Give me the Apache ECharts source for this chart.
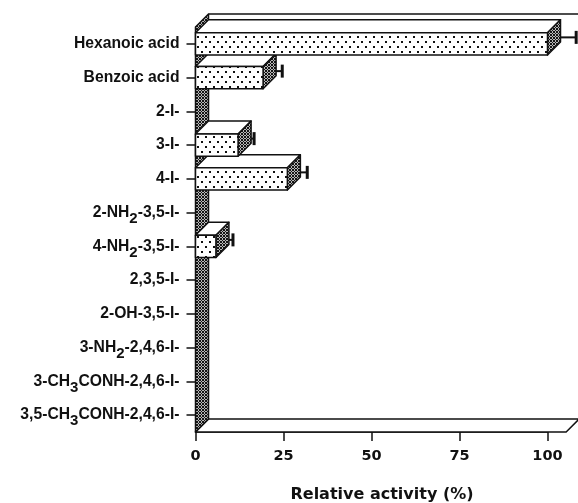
<!DOCTYPE html>
<html><head><meta charset="utf-8">
<script src="https://cdn.jsdelivr.net/npm/echarts@6/dist/echarts.min.js"></script>
<style>html,body{margin:0;padding:0;background:#fff}#c{width:578px;height:503px}</style>
</head><body><div id="c"></div>
<script>
// ---- data ----
const categories = ['Hexanoic acid', 'Benzoic acid', '2-I-', '3-I-', '4-I-', '2-NH₂-3,5-I-', '4-NH₂-3,5-I-', '2,3,5-I-', '2-OH-3,5-I-', '3-NH₂-2,4,6-I-', '3-CH₃CONH-2,4,6-I-', '3,5-CH₃CONH-2,4,6-I-'];
const activity = [100, 19.2, 0, 12.1, 26.1, 0, 5.8, 0, 0, 0, 0, 0];
const errors = [6.3, 3.6, 0, 2.7, 3.8, 0, 3.0, 0, 0, 0, 0, 0];
const xTickLabels = ['0', '25', '50', '75', '100'];
const xAxisName = 'Relative activity (%)';
const floorMax = [105.3];

// ---- styles ----
const INK = '#111';
const DEPTH = 13;
function makeDots() {
  const c = document.createElement('canvas'); c.width = 8; c.height = 10;
  const g = c.getContext('2d');
  g.fillStyle = '#fff'; g.fillRect(0, 0, 8, 10);
  g.fillStyle = '#111'; g.fillRect(1, 1, 2, 2); g.fillRect(5, 6, 2, 2);
  return c;
}
function makeHatch() {
  const c = document.createElement('canvas'); c.width = 3; c.height = 3;
  const g = c.getContext('2d');
  g.fillStyle = '#b8b8b8'; g.fillRect(0, 0, 3, 3);
  g.fillStyle = '#151515';
  for (let x = 0; x < 3; x++) for (let y = 0; y < 3; y++) {
    if ((x - y + 3) % 3 === 0 || (x + y) % 3 === 0) g.fillRect(x, y, 1, 1);
  }
  return c;
}
const dotsFill = { image: makeDots(), repeat: 'repeat' };
const hatchFill = { image: makeHatch(), repeat: 'repeat' };

const barData = categories.map((c, i) => [activity[i], i, errors[i]]);

function renderBar(params, api) {
  const v = api.value(0), ci = api.value(1), e = api.value(2);
  if (!(v > 0)) return null;
  const p0 = api.coord([0, ci]);
  const p1 = api.coord([v, ci]);
  const band = api.size([0, 1])[1];
  const h = band * 0.66, D = DEPTH;
  const x0 = p0[0], x1 = p1[0], yc = p0[1], yt = yc - h / 2, yb = yc + h / 2;
  const base = (categories.length - ci) * 10;
  const st = { stroke: INK, lineWidth: 1.5, lineJoin: 'round' };
  const children = [
    { type: 'polygon', z2: base, shape: { points: [[x0, yt], [x0 + D, yt - D], [x1 + D, yt - D], [x1, yt]] }, style: Object.assign({ fill: '#fff' }, st) },
    { type: 'polygon', z2: base + 1, shape: { points: [[x1, yt], [x1 + D, yt - D], [x1 + D, yb - D], [x1, yb]] }, style: Object.assign({ fill: hatchFill }, st) },
    { type: 'rect', z2: base + 2, shape: { x: x0, y: yt, width: x1 - x0, height: h }, style: Object.assign({ fill: dotsFill }, st) }
  ];
  if (e > 0) {
    const pe = api.coord([v + e, ci]);
    const ye = yc - D / 2, xe = pe[0] + D / 2;
    children.push({ type: 'line', z2: base + 3, shape: { x1: x1 + D, y1: ye, x2: xe, y2: ye }, style: { stroke: INK, lineWidth: 2 } });
    children.push({ type: 'line', z2: base + 4, shape: { x1: xe, y1: ye - 6.5, x2: xe, y2: ye + 6.5 }, style: { stroke: INK, lineWidth: 3 } });
  }
  return { type: 'group', children };
}

function renderFrame(params, api) {
  const cs = params.coordSys;
  const D = DEPTH;
  const x0 = api.coord([0, 0])[0];
  const xe = api.coord([api.value(0), 0])[0];
  const top = cs.y, bot = cs.y + cs.height;
  const st = { stroke: INK, lineWidth: 1.5, lineJoin: 'round' };
  return {
    type: 'group', children: [
      { type: 'polygon', shape: { points: [[x0, bot], [x0 + D, bot - D], [xe + D, bot - D], [xe, bot]] }, style: Object.assign({ fill: '#fff' }, st) },
      { type: 'polygon', shape: { points: [[x0, top], [x0 + D, top - D], [x0 + D, bot - D], [x0, bot]] }, style: Object.assign({ fill: hatchFill }, st) },
      { type: 'line', shape: { x1: x0 + D, y1: top - D, x2: xe + D, y2: top - D }, style: { stroke: INK, lineWidth: 1.5 } }
    ]
  };
}

function yLabel(val) {
  return val.split(/([₂₃])/).filter(s => s).map(s =>
    s === '₂' ? '{s|2}' : s === '₃' ? '{s|3}' : '{n|' + s + '}').join('');
}

const labelFont = { fontFamily: 'Liberation Sans', fontWeight: 'bold', fontSize: 15.7, color: INK };
const chart = echarts.init(document.getElementById('c'), null, { renderer: 'canvas' });
chart.setOption({
  animation: false,
  backgroundColor: '#fff',
  grid: { left: 195.5, right: 30.5, top: 27, height: 405, containLabel: false, outerBoundsMode: 'none' },
  xAxis: {
    type: 'value', min: 0, max: 100, interval: 25,
    name: xAxisName, nameLocation: 'middle', nameGap: 55,
    nameTextStyle: { fontFamily: 'DejaVu Sans', fontWeight: 'bold', fontSize: 16, color: INK, padding: [0, 0, 0, 21] },
    axisLine: { show: true, lineStyle: { color: INK, width: 1.5 } },
    axisTick: { show: true, length: 9, lineStyle: { color: INK, width: 1.5 } },
    splitLine: { show: false },
    axisLabel: {
      margin: 17, fontFamily: 'DejaVu Sans', fontWeight: 'bold', fontSize: 14.5, color: INK,
      formatter: (v) => xTickLabels[Math.round(v / 25)] ?? ''
    }
  },
  yAxis: {
    type: 'category', inverse: true, data: categories,
    axisLine: { show: true, lineStyle: { color: INK, width: 1.5 } },
    axisTick: { show: true, length: 9, alignWithLabel: true, lineStyle: { color: INK, width: 1.5 } },
    splitLine: { show: false },
    axisLabel: {
      margin: 16, interval: 0, formatter: yLabel,
      rich: { n: Object.assign({}, labelFont), s: Object.assign({ padding: [12, 0, 0, 0] }, labelFont, { fontSize: 15 }) }
    }
  },
  series: [
    { type: 'custom', name: 'frame', renderItem: renderFrame, data: [floorMax], z: 1, silent: true, clip: false },
    { type: 'custom', name: 'activity', renderItem: renderBar, data: barData, z: 2, silent: true, clip: false, encode: { x: 0, y: 1 } }
  ]
});
</script>
</body></html>
